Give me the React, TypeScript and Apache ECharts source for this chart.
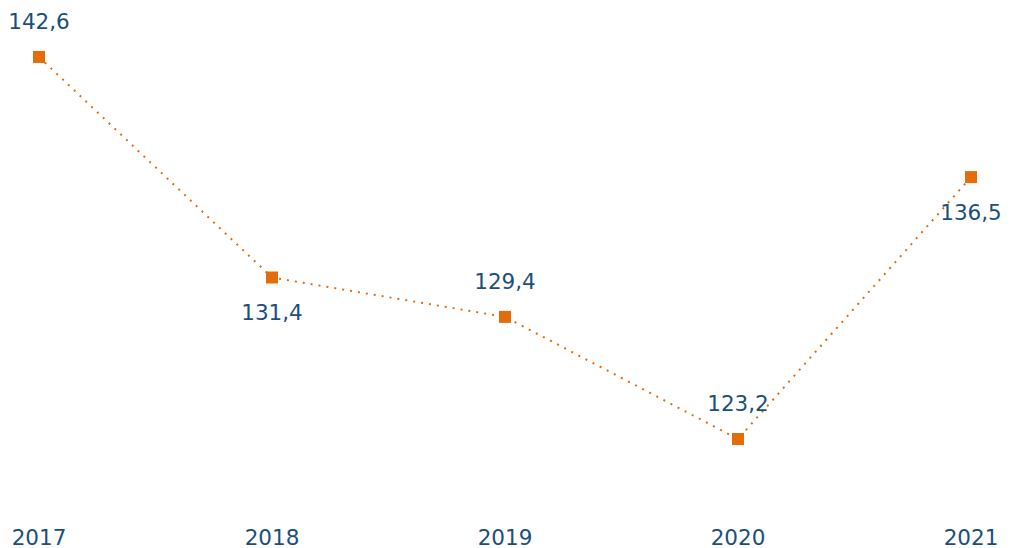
import React, { useEffect, useRef } from "react";
import * as echarts from "echarts";

const categories = ["2017", "2018", "2019", "2020", "2021"];
const values = [142.6, 131.4, 129.4, 123.2, 136.5];
const labelPositions = ["top", "bottom", "top", "top", "bottom"];

const BLUE = "#1b4f7b";
const ORANGE = "#e46c0a";

export default function App() {
  const ref = useRef<HTMLDivElement>(null);
  useEffect(() => {
    if (!ref.current) return;
    const chart = echarts.init(ref.current, undefined, { renderer: "svg" });
    chart.setOption({
      animation: false,
      grid: { left: 39, right: 39, top: 9.7, bottom: 46 },
      xAxis: {
        type: "category",
        data: categories,
        boundaryGap: false,
        axisLine: { show: false },
        axisTick: { show: false },
        axisLabel: {
          color: BLUE,
          fontSize: 21.5,
          fontFamily: "DejaVu Sans",
          margin: 24,
        },
      },
      yAxis: {
        type: "value",
        min: 120,
        max: 145,
        show: false,
        splitLine: { show: false },
      },
      series: [
        {
          type: "line",
          data: values.map((v, i) => ({
            value: v,
            label: { position: labelPositions[i] },
          })),
          symbol: "rect",
          symbolSize: 12,
          itemStyle: { color: ORANGE },
          lineStyle: { color: ORANGE, width: 2, type: [2, 6] },
          label: {
            show: true,
            color: BLUE,
            fontSize: 21.5,
            fontFamily: "DejaVu Sans",
            distance: 18,
            formatter: (p: any) => String(p.value.toFixed(1)).replace(".", ","),
          },
        },
      ],
    });
    return () => chart.dispose();
  }, []);
  return <div ref={ref} style={{ width: 1010, height: 548, position: "absolute", left: 0, top: 0 }} />;
}
